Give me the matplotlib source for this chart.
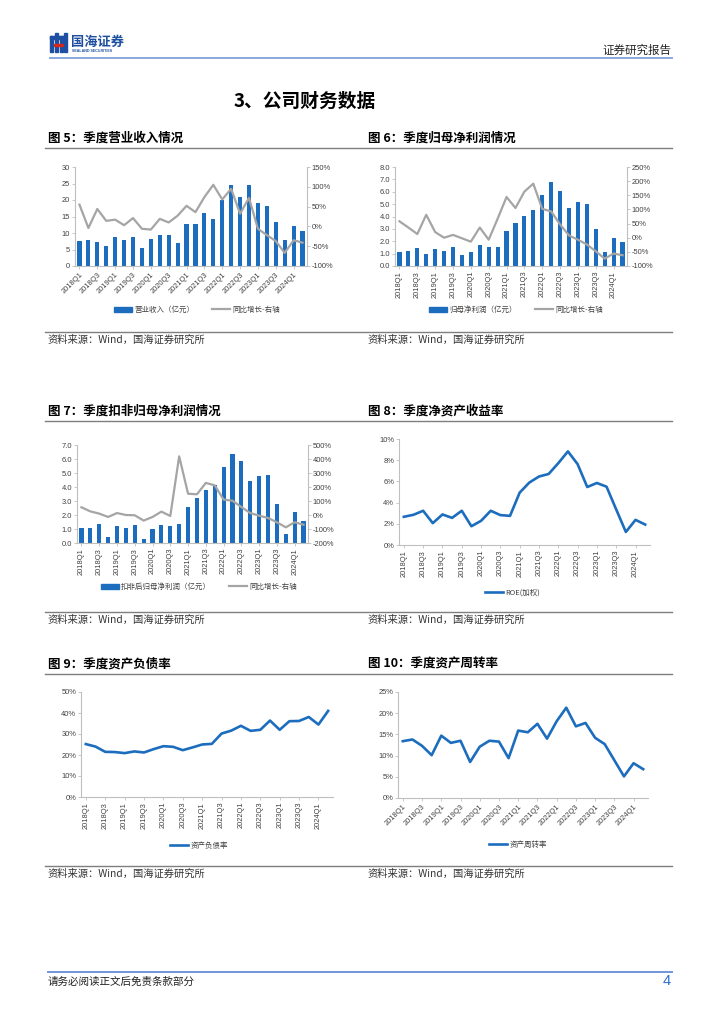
import matplotlib.pyplot as plt
from matplotlib.lines import Line2D
from matplotlib.patches import Rectangle, Patch

plt.rcParams['font.family'] = ['Liberation Sans', 'Noto Sans CJK SC', 'DejaVu Sans']
plt.rcParams['axes.unicode_minus'] = False

W, H = 724, 1024
CJK = ['Noto Sans CJK SC', 'DejaVu Sans']

# quarters 2018Q1 .. 2024Q2
quarters = ['2018Q1', '2018Q2', '2018Q3', '2018Q4', '2019Q1', '2019Q2', '2019Q3', '2019Q4',
            '2020Q1', '2020Q2', '2020Q3', '2020Q4', '2021Q1', '2021Q2', '2021Q3', '2021Q4',
            '2022Q1', '2022Q2', '2022Q3', '2022Q4', '2023Q1', '2023Q2', '2023Q3', '2023Q4',
            '2024Q1', '2024Q2']

# fig 5: revenue (100m yuan) and yoy growth (%)
revenue = [7.5, 8.0, 7.2, 6.0, 8.8, 8.0, 8.7, 5.6, 8.3, 9.3, 9.3, 7.0, 12.6, 12.6,
           16.2, 14.1, 20.0, 24.5, 21.0, 24.5, 19.2, 18.3, 13.2, 7.8, 12.1, 10.7]
revenue_yoy = [55, -4, 44, 14, 17, 3, 21, -6, -8, 19, 10, 27, 52, 36,
               74, 105, 68, 95, 32, 72, -6, -22, -37, -67, -35, -41]

# fig 6: net profit attributable to parent
net_profit = [1.1, 1.2, 1.45, 0.95, 1.35, 1.2, 1.55, 0.85, 1.1, 1.7, 1.55, 1.55, 2.8, 3.5,
              4.05, 4.5, 5.7, 6.8, 6.1, 4.7, 5.2, 5.05, 3.0, 1.1, 2.25, 1.9]
net_profit_yoy = [58, 36, 13, 81, 20, 0, 10, -2, -14, 36, -7, 67, 144, 105,
                  163, 191, 102, 93, 47, 8, -7, -24, -48, -74, -56, -62]

# fig 7: net profit excl. non-recurring items
deducted_profit = [1.1, 1.1, 1.33, 0.43, 1.22, 1.05, 1.3, 0.27, 1.03, 1.3, 1.18, 1.33, 2.6, 3.2,
                   3.78, 4.15, 5.4, 6.33, 5.83, 4.42, 4.77, 4.87, 2.78, 0.62, 2.2, 1.55]
deducted_yoy = [55, 26, 10, -14, 14, 0, -2, -40, -14, 24, -7, 419, 152, 148,
                229, 212, 110, 102, 57, 14, -5, -21, -52, -88, -52, -69]

# fig 8-10 (%)
roe = [2.66, 2.85, 3.23, 2.06, 2.88, 2.56, 3.23, 1.77, 2.28, 3.23, 2.82, 2.75, 4.94, 5.89,
       6.46, 6.7, 7.72, 8.83, 7.63, 5.47, 5.85, 5.5, 3.35, 1.23, 2.37, 1.93]
debt_ratio = [25.2, 24.0, 21.5, 21.4, 20.9, 21.7, 21.2, 22.8, 24.2, 23.9, 22.3, 23.6, 25.0, 25.3,
              30.2, 31.6, 33.9, 31.5, 32.0, 36.4, 32.0, 36.1, 36.2, 38.1, 34.5, 41.0]
turnover = [13.4, 13.8, 12.3, 10.1, 14.7, 13.0, 13.5, 8.5, 12.1, 13.5, 13.3, 9.4, 15.9, 15.5,
            17.5, 14.0, 18.1, 21.3, 16.9, 17.7, 14.2, 12.7, 8.9, 5.1, 8.2, 6.8]

BLUE = '#1C6DBD'
GRAY = '#A5A5A5'
SPINE = '#BFBFBF'
TXT = '#404040'

fig = plt.figure(figsize=(W / 100, H / 100), dpi=100)


def rect(l, t, r, b):
    return [l / W, 1 - b / H, (r - l) / W, (b - t) / H]


def ftext(x, y, s, **kw):
    fig.text(x / W, 1 - y / H, s, **kw)


def hline(y, x0, x1, color, lw):
    fig.add_artist(Line2D([x0 / W, x1 / W], [1 - y / H, 1 - y / H], color=color, lw=lw))


def style_axis(ax):
    for s in ['top', 'right']:
        ax.spines[s].set_visible(False)
    for s in ['left', 'bottom']:
        ax.spines[s].set_color(SPINE)
        ax.spines[s].set_linewidth(0.8)
    ax.tick_params(colors=SPINE, labelcolor=TXT, labelsize=5.4, length=2, width=0.6, pad=1.5)


def xlabels(ax, rot):
    idx = list(range(0, len(quarters), 2))
    ax.set_xticks(idx)
    if rot == 45:
        ax.set_xticklabels([quarters[i] for i in idx], rotation=45, ha='right',
                           rotation_mode='anchor')
    else:
        ax.set_xticklabels([quarters[i] for i in idx], rotation=90, va='top', ha='center')
    ax.set_xlim(-0.5, len(quarters) - 0.5)


def legend(ax, handles, labels, cx, cy):
    ax.legend(handles, labels, loc='center', bbox_to_anchor=(cx / W, 1 - cy / H),
              bbox_transform=fig.transFigure, ncol=len(handles), frameon=False,
              prop={'family': CJK, 'size': 5.4}, handlelength=2.4, handleheight=0.8,
              columnspacing=2.4, handletextpad=0.3, labelcolor=TXT)


def bar_line(box, bars, yoy, ylim, ystep, yfmt, rlim, rstep, rot, bar_label, leg_x, leg_y):
    ax = fig.add_axes(rect(*box))
    x = list(range(len(quarters)))
    ax.bar(x, bars, width=0.47, color=BLUE)
    style_axis(ax)
    ax.set_ylim(*ylim)
    ax.set_yticks([ylim[0] + i * ystep for i in range(int(round((ylim[1] - ylim[0]) / ystep)) + 1)])
    ax.set_yticklabels([yfmt.format(v) for v in ax.get_yticks()])
    xlabels(ax, rot)
    ax2 = ax.twinx()
    ax2.plot(x, yoy, color=GRAY, lw=1.6)
    for s in ['top', 'left', 'bottom']:
        ax2.spines[s].set_visible(False)
    ax2.spines['right'].set_color(SPINE)
    ax2.spines['right'].set_linewidth(0.8)
    ax2.tick_params(colors=SPINE, labelcolor=TXT, labelsize=5.4, length=2, width=0.6, pad=1.5)
    ax2.set_ylim(*rlim)
    ax2.set_yticks(list(range(rlim[0], rlim[1] + 1, rstep)))
    ax2.set_yticklabels([f'{v}%' for v in range(rlim[0], rlim[1] + 1, rstep)])
    legend(ax, [Patch(color=BLUE), Line2D([], [], color=GRAY, lw=1.6)],
           [bar_label, '同比增长-右轴'], leg_x, leg_y)


def line_chart(box, vals, ymax, ystep, rot, label, leg_x, leg_y):
    ax = fig.add_axes(rect(*box))
    ax.plot(range(len(quarters)), vals, color=BLUE, lw=1.9)
    style_axis(ax)
    ax.set_ylim(0, ymax)
    ax.set_yticks(list(range(0, ymax + 1, ystep)))
    ax.set_yticklabels([f'{v}%' for v in range(0, ymax + 1, ystep)])
    xlabels(ax, rot)
    legend(ax, [Line2D([], [], color=BLUE, lw=1.9)], [label], leg_x, leg_y)


# ---- header ----
LOGO = '#1E4FA0'
for (x0, y0, w, h, c) in [(50, 36, 3, 16, LOGO), (55, 33, 3, 10, LOGO), (55, 46, 3, 6, LOGO),
                          (60, 36, 3, 16, LOGO), (50, 36, 13, 2.5, LOGO), (54, 43.5, 9, 2, '#D7261E'),
                          (64, 33, 3, 19, LOGO)]:
    fig.add_artist(Rectangle((x0 / W, 1 - (y0 + h) / H), w / W, h / H, color=c,
                             transform=fig.transFigure))
ftext(71, 42, '国海证券', family=CJK, fontsize=9.5, weight='bold', color=LOGO, va='center')
ftext(72, 50.5, 'SEALAND SECURITIES', fontsize=2.6, weight='bold', color=LOGO, va='center')
ftext(671, 50, '证券研究报告', family=CJK, fontsize=8.3, color='#222222', ha='right', va='center')
hline(58, 50, 672, '#8AA8DE', 1.4)

ftext(305, 101, '3、公司财务数据', family=CJK, fontsize=13.5, weight='bold', color='black',
      ha='center', va='center')

# ---- section titles / source lines ----
for y, (t1, t2) in [(138, ('图 5：季度营业收入情况', '图 6：季度归母净利润情况')),
                    (411, ('图 7：季度扣非归母净利润情况', '图 8：季度净资产收益率')),
                    (664, ('图 9：季度资产负债率', '图 10：季度资产周转率'))]:
    ftext(48, y, t1, family=CJK, fontsize=9, weight='bold', color='black', va='center')
    ftext(368, y, t2, family=CJK, fontsize=9, weight='bold', color='black', va='center')
    hline(y + 10, 45, 672, '#7F7F7F', 1.0)

for y in [340, 620, 874]:
    hline(y - 8, 45, 672, '#7F7F7F', 1.0)
    ftext(48, y, '资料来源：Wind，国海证券研究所', family=CJK, fontsize=7.4, color='#333333', va='center')
    ftext(368, y, '资料来源：Wind，国海证券研究所', family=CJK, fontsize=7.4, color='#333333', va='center')

# ---- charts ----
bar_line((75, 167, 307, 266), revenue, revenue_yoy, (0, 30), 5, '{:.0f}', (-100, 150), 50, 45,
         '营业收入（亿元）', 197, 310)
bar_line((395, 167, 627, 266), net_profit, net_profit_yoy, (0, 8), 1, '{:.1f}', (-100, 250), 50, 90,
         '归母净利润（亿元）', 516, 310)
bar_line((77, 445, 308, 543), deducted_profit, deducted_yoy, (0, 7), 1, '{:.1f}', (-200, 500), 100, 90,
         '扣非后归母净利润（亿元）', 199, 587)
line_chart((399, 439, 650, 545), roe, 10, 2, 90, 'ROE(加权)', 513, 593)
line_chart((81, 692, 333, 797), debt_ratio, 50, 10, 90, '资产负债率', 199, 846)
line_chart((398, 692, 648, 798), turnover, 25, 5, 45, '资产周转率', 518, 845)

# ---- footer ----
hline(972, 48, 672, '#6F95DB', 1.4)
ftext(48, 982, '请务必阅读正文后免责条款部分', family=CJK, fontsize=7.6, color='#222222', va='center')
ftext(671, 981, '4', fontsize=10.5, color='#2E6FD0', ha='right', va='center')

fig.savefig('out.png', dpi=100)
